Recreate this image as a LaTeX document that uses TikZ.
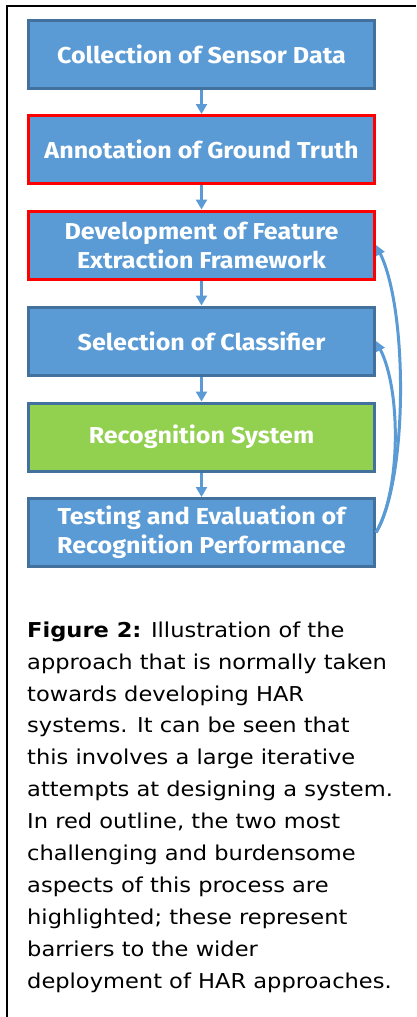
\documentclass[tikz,border=0pt]{standalone}
\usepackage{fontspec}
\setmainfont[FakeStretch=1.1]{DejaVu Sans}
\newfontfamily\boxfont[FakeStretch=1.09]{Fira Sans}
\usetikzlibrary{arrows.meta}
\definecolor{boxblue}{HTML}{5B9BD5}
\definecolor{boxedge}{HTML}{41719C}
\definecolor{boxgreen}{HTML}{92D050}
\definecolor{hilite}{HTML}{FF0000}
\begin{document}
\begin{tikzpicture}[x=1pt,y=-1pt,
  stage/.style={draw=boxedge, fill=boxblue, line width=3pt,
    minimum width=346pt, minimum height=68pt, inner sep=0pt,
    text=white, align=center,
    font=\boxfont\bfseries\fontsize{23}{29}\selectfont},
  hard/.style={stage, draw=hilite},
  goal/.style={stage, fill=boxgreen},
  flow/.style={draw=boxblue, line width=3pt, -{Triangle[length=10pt,width=11pt]}},
  loopback/.style={draw=boxblue, line width=3pt, -{Triangle[length=10pt,width=9pt]}}
]
\useasboundingbox (0,0) rectangle (416,1017);
\fill[white] (0,0) rectangle (416,1017);
% frame edges
\draw[line width=2pt] (7,1017) -- (7,6) -- (416,6);

% process stages
\node[stage] (b1) at (201.5,54)    {Collection of Sensor Data};
\node[hard]  (b2) at (201.5,149.5) {Annotation of Ground Truth};
\node[hard]  (b3) at (201.5,245)   {Development of Feature\\Extraction Framework};
\node[stage] (b4) at (201.5,341)   {Selection of Classifier};
\node[goal]  (b5) at (201.5,437)   {Recognition System};
\node[stage] (b6) at (201.5,532.5) {Testing and Evaluation of\\Recognition Performance};

% forward flow
\draw[flow] (b1) -- (b2);
\draw[flow] (b2) -- (b3);
\draw[flow] (b3) -- (b4);
\draw[flow] (b4) -- (b5);
\draw[flow] (b5) -- (b6);

% iteration loops
\draw[loopback] (b6.east) .. controls (408,480) and (408,310) .. (b3.east);
\draw[loopback] (b6.east) .. controls (401,490) and (401,390) .. (b4.east);

% caption
\node[anchor=north west, inner sep=0pt, align=left,
      font=\fontsize{20.5}{31.9}\selectfont] (cap) at (27,621.5)
  {\textbf{Figure 2:} Illustration of the\\
   approach that is normally taken\\
   towards developing HAR\\
   systems. It can be seen that\\
   this involves a large iterative\\
   attempts at designing a system.\\
   In red outline, the two most\\
   challenging and burdensome\\
   aspects of this process are\\
   highlighted; these represent\\
   barriers to the wider\\
   deployment of HAR approaches.};
\end{tikzpicture}
\end{document}
